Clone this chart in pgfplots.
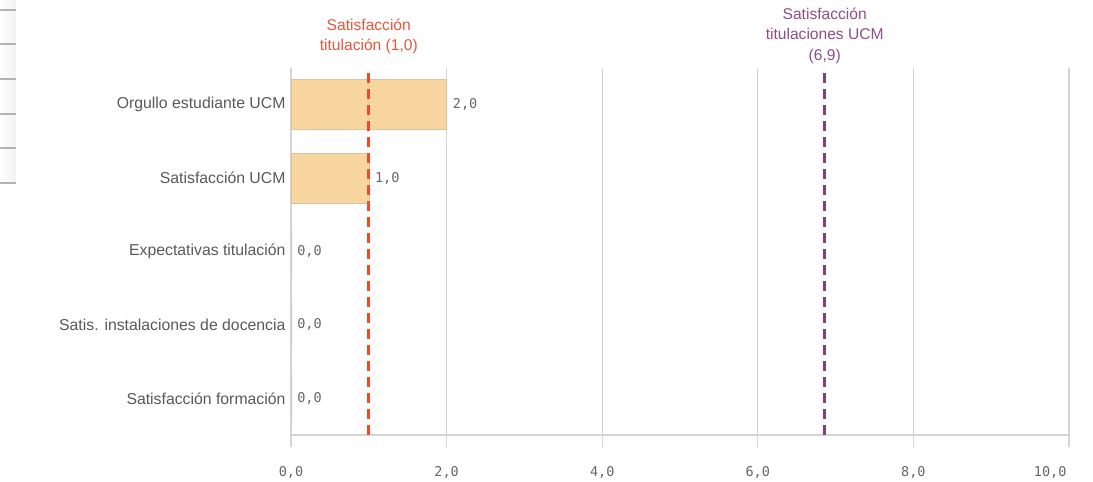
\documentclass[border=0pt]{standalone}
\usepackage{pgfplots}
\pgfplotsset{compat=1.18}
\usepackage{pgfplotstable}
\usepackage{fontspec}
\setmainfont{Liberation Sans}
\setmonofont{DejaVu Sans Mono}
\definecolor{barfill}{HTML}{F9D5A0}
\definecolor{barline}{HTML}{D8C3A3}
\definecolor{gridgray}{HTML}{D4D4D4}
\definecolor{txtgray}{HTML}{595959}
\definecolor{numgray}{HTML}{666666}
\definecolor{refred}{HTML}{F2492A}
\definecolor{refredtxt}{HTML}{E8553C}
\definecolor{refpurple}{HTML}{7E4275}
\definecolor{refpurpletxt}{HTML}{8E4F85}

\pgfplotstableread{
y x
0 2.0
1 1.0
2 0.0
3 0.0
4 0.0
}\bardata

\begin{document}
\begin{tikzpicture}
\useasboundingbox (0pt,0pt) rectangle (1093pt,482pt);
% left-edge panel remnants
\shade[left color=white, right color=black!6] (0pt,299pt) rectangle (16pt,482pt);
\foreach \yy in {472,438,403,368,334,299}
  \draw[black!30, line width=1.2pt] (0pt,\yy pt) -- (16pt,\yy pt);
\begin{axis}[
  at={(291pt,47pt)}, anchor=south west,
  scale only axis, width=778pt, height=367pt,
  xmin=0, xmax=10, ymin=-0.5, ymax=4.5,
  y dir=reverse,
  xtick={0,2,4,6,8},
  extra x ticks={10},
  extra x tick style={grid=major, xticklabel style={anchor=north east, xshift=1pt}},
  ytick={0,1,2,3,4},
  yticklabels={Orgullo estudiante UCM, Satisfacción UCM, Expectativas titulación, Satis. instalaciones de docencia, Satisfacción formación},
  axis x line*=bottom, axis y line*=left,
  y axis line style={draw=none},
  x axis line style={draw=gridgray, line width=1.2pt},
  xmajorgrids, grid style={draw=gridgray, line width=1.2pt},
  tick align=outside,
  major tick length=12pt,
  xtick style={draw=gridgray, line width=1.2pt},
  ytick style={draw=none},
  /pgf/number format/.cd, use comma, fixed, fixed zerofill, precision=1, assume math mode=true,
  /pgfplots/.cd,
  xticklabel style={font=\ttfamily\fontsize{13.5}{15}\selectfont, text=numgray, yshift=-16pt},
  yticklabel style={font=\fontsize{15.8}{18}\selectfont, text=txtgray, xshift=10pt},
  clip=false,
]
\addplot[xbar, bar width=50pt, fill=barfill, draw=barline, line width=0.6pt,
  nodes near coords={\pgfmathprintnumber[fixed, fixed zerofill, precision=1, use comma, assume math mode=true]{\pgfplotspointmeta}},
  nodes near coords style={font=\ttfamily\fontsize{13.5}{15}\selectfont, text=numgray, anchor=west, inner sep=0pt, xshift=6pt},
  point meta=x] table[x=x, y=y] {\bardata};
\addplot[refred, line width=2.8pt, dash pattern=on 10pt off 6pt] coordinates {(1,4.5) (1,-0.5)}
  node[pos=1, anchor=south, align=center, text=refredtxt, font=\fontsize{15.6}{20}\selectfont, yshift=13pt, inner sep=0pt] {Satisfacción\\titulación (1,0)};
\addplot[refpurple, line width=2.8pt, dash pattern=on 10pt off 6pt] coordinates {(6.86,4.5) (6.86,-0.5)}
  node[pos=1, anchor=south, align=center, text=refpurpletxt, font=\fontsize{15.6}{20.5}\selectfont, yshift=3pt, inner sep=0pt] {Satisfacción\\titulaciones UCM\\(6,9)};
\end{axis}
\end{tikzpicture}
\end{document}
